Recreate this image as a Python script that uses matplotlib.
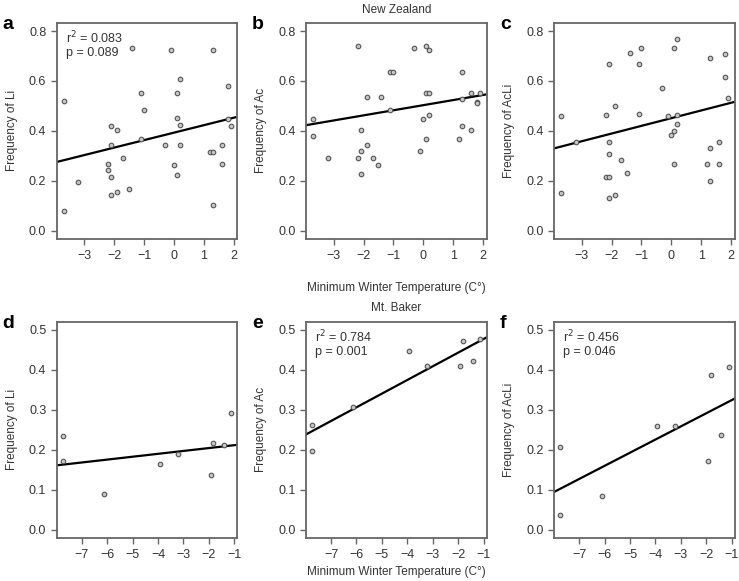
import matplotlib
matplotlib.use('Agg')
import matplotlib.pyplot as plt

plt.rcParams['font.family'] = ['Liberation Sans', 'DejaVu Sans']
plt.rcParams['font.size'] = 8

# New Zealand sites (top row)
nz_li_x = [-3.7, -3.7, -3.2, -2.1, -2.1, -2.2, -2.2, -2.1, -2.1, -1.9, -1.9, -1.7, -1.5, -1.4,
           -1.1, -1.1, -1.0, -0.3, -0.1, 0.0, 0.1, 0.1, 0.1, 0.2, 0.2, 0.2, 1.2, 1.3, 1.3, 1.3,
           1.6, 1.6, 1.8, 1.8, 1.9]
nz_li_y = [0.52, 0.079, 0.196, 0.42, 0.343, 0.268, 0.243, 0.215, 0.143, 0.402, 0.154, 0.291,
           0.167, 0.733, 0.552, 0.367, 0.483, 0.345, 0.722, 0.264, 0.552, 0.451, 0.224, 0.606,
           0.422, 0.345, 0.317, 0.317, 0.722, 0.104, 0.345, 0.268, 0.58, 0.447, 0.42]

nz_ac_x = [-3.7, -3.7, -3.2, -2.2, -2.2, -2.1, -2.1, -2.1, -1.9, -1.9, -1.7, -1.5, -1.4, -1.1,
           -1.0, -1.1, -0.3, -0.1, 0.0, 0.1, 0.2, 0.1, 0.2, 0.2, 0.1, 1.2, 1.3, 1.3, 1.3, 1.6,
           1.6, 1.8, 1.8, 1.9]
nz_ac_y = [0.446, 0.379, 0.292, 0.741, 0.292, 0.402, 0.321, 0.226, 0.537, 0.345, 0.292, 0.264,
           0.537, 0.634, 0.634, 0.485, 0.733, 0.321, 0.446, 0.741, 0.722, 0.552, 0.552, 0.465,
           0.367, 0.367, 0.634, 0.526, 0.421, 0.552, 0.402, 0.516, 0.512, 0.552]

nz_acli_x = [-3.7, -3.7, -3.2, -2.2, -2.2, -2.1, -2.1, -2.1, -2.1, -2.1, -1.9, -1.9, -1.7, -1.5,
             -1.4, -1.1, -1.1, -1.0, -0.3, -0.1, 0.0, 0.1, 0.1, 0.1, 0.2, 0.2, 0.2, 1.2, 1.3,
             1.3, 1.3, 1.6, 1.6, 1.8, 1.8, 1.9]
nz_acli_y = [0.461, 0.152, 0.357, 0.465, 0.214, 0.214, 0.666, 0.357, 0.307, 0.132, 0.5, 0.142,
             0.284, 0.23, 0.713, 0.666, 0.466, 0.733, 0.572, 0.461, 0.385, 0.733, 0.399, 0.266,
             0.769, 0.465, 0.427, 0.266, 0.692, 0.333, 0.199, 0.357, 0.266, 0.707, 0.614, 0.533]

# Mt. Baker sites (bottom row)
mb_x = [-7.75, -7.75, -6.12, -3.93, -3.23, -1.93, -1.82, -1.42, -1.12]
mb_li_y = [0.234, 0.173, 0.09, 0.164, 0.191, 0.138, 0.217, 0.212, 0.292]
mb_ac_y = [0.263, 0.198, 0.307, 0.447, 0.409, 0.409, 0.472, 0.422, 0.476]
mb_acli_y = [0.207, 0.038, 0.086, 0.259, 0.259, 0.172, 0.388, 0.237, 0.408]

# fitted lines (intercept, slope)
fit_nz_li = (0.393, 0.0299)
fit_nz_ac = (0.503, 0.0204)
fit_nz_acli = (0.451, 0.0308)
fit_mb_li = (0.219, 0.0072)
fit_mb_ac = (0.511, 0.0341)
fit_mb_acli = (0.357, 0.0328)

stats = {'a': ('0.083', '0.089'), 'e': ('0.784', '0.001'), 'f': ('0.456', '0.046')}

frame_col = '#666666'
text_col = '#333333'

fig = plt.figure(figsize=(7.39, 5.81), dpi=100)
lefts = [0.0767, 0.4140, 0.7497]
w = 0.2444
top_b, bot_b, h = 0.5886, 0.0740, 0.3722

panels = [
    ('a', nz_li_x, nz_li_y, fit_nz_li, 'Frequency of Li', 0, 0),
    ('b', nz_ac_x, nz_ac_y, fit_nz_ac, 'Frequency of Ac', 0, 1),
    ('c', nz_acli_x, nz_acli_y, fit_nz_acli, 'Frequency of AcLi', 0, 2),
    ('d', mb_x, mb_li_y, fit_mb_li, 'Frequency of Li', 1, 0),
    ('e', mb_x, mb_ac_y, fit_mb_ac, 'Frequency of Ac', 1, 1),
    ('f', mb_x, mb_acli_y, fit_mb_acli, 'Frequency of AcLi', 1, 2),
]

axes = {}
for letter, xs, ys, fit, ylab, row, col in panels:
    ax = fig.add_axes([lefts[col], top_b if row == 0 else bot_b, w, h])
    axes[letter] = ax
    ax.plot(xs, ys, 'o', ms=3.3, mfc='#c8c8c8', mec='#555555', mew=0.8, zorder=3)
    ax.axline((0, fit[0]), slope=fit[1], color='black', lw=1.6, zorder=2)
    if row == 0:
        ax.set_xlim(-3.93, 2.12)
        ax.set_ylim(-0.033, 0.833)
        ax.set_xticks([-3, -2, -1, 0, 1, 2])
        ax.set_yticks([0.0, 0.2, 0.4, 0.6, 0.8])
    else:
        ax.set_xlim(-7.99, -0.88)
        ax.set_ylim(-0.02, 0.52)
        ax.set_xticks([-7, -6, -5, -4, -3, -2, -1])
        ax.set_yticks([0.0, 0.1, 0.2, 0.3, 0.4, 0.5])
    ax.yaxis.set_major_formatter(matplotlib.ticker.FormatStrFormatter('%.1f'))
    for sp in ax.spines.values():
        sp.set_color(frame_col)
        sp.set_linewidth(1.3)
    ax.tick_params(direction='out', length=4.5, width=1.0, color=frame_col,
                   labelcolor=text_col, labelsize=9, pad=3)
    ax.tick_params(axis='x', pad=3.5)
    ax.set_ylabel(ylab, fontsize=8.5, color=text_col, labelpad=8)
    ax.text(-0.30, 0.99, letter, transform=ax.transAxes, fontsize=14, fontweight='bold',
            va='center', ha='left')
    if letter in stats:
        r2, p = stats[letter]
        ax.text(0.05, 0.93, 'r$^2$ = ' + r2, transform=ax.transAxes, fontsize=9,
                color=text_col, va='center')
        ax.text(0.05, 0.86, 'p = ' + p, transform=ax.transAxes, fontsize=9,
                color=text_col, va='center')

axes['b'].set_title('New Zealand', fontsize=8.5, color=text_col, pad=7)
axes['e'].set_title('Mt. Baker', fontsize=8.5, color=text_col, pad=8)
axes['b'].set_xlabel('Minimum Winter Temperature (C°)', fontsize=8.5, color=text_col, labelpad=14)
axes['e'].set_xlabel('Minimum Winter Temperature (C°)', fontsize=8.5, color=text_col, labelpad=3.5)

fig.savefig('out.png', dpi=100)
